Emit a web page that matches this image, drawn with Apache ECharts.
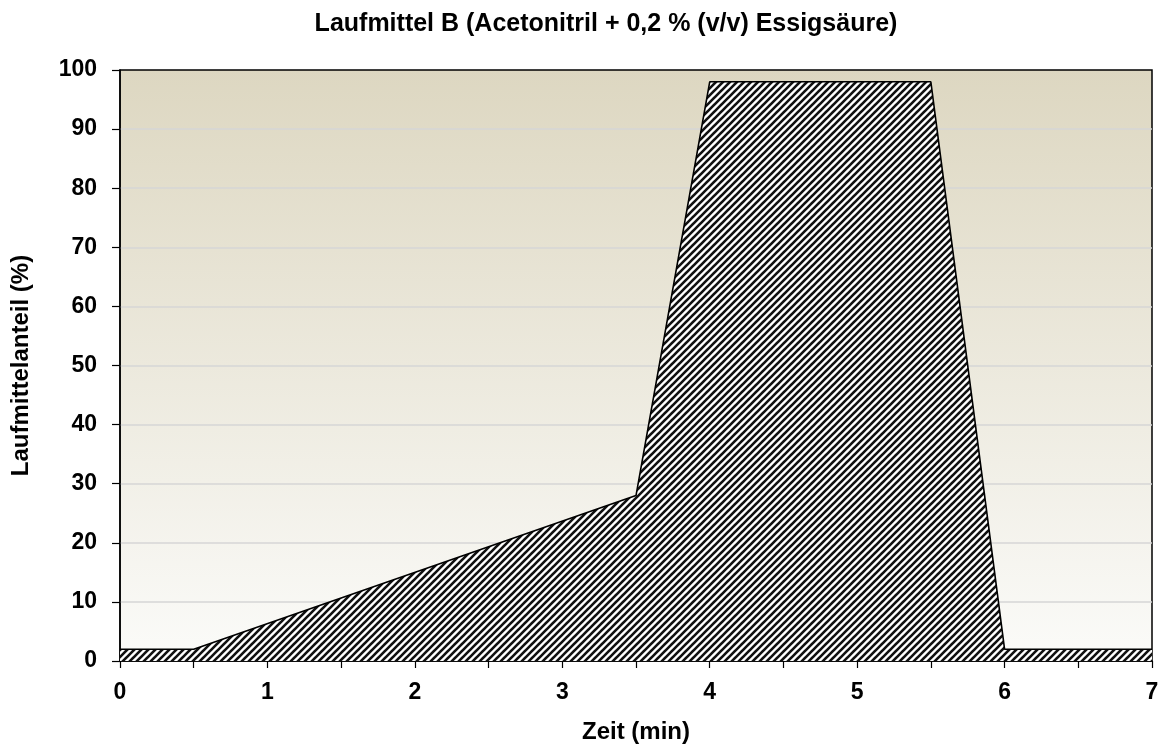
<!DOCTYPE html>
<html><head><meta charset="utf-8">
<script src="https://cdn.jsdelivr.net/npm/echarts@6/dist/echarts.min.js"></script>
<style>html,body{margin:0;padding:0;background:#fff}#c{width:1162px;height:749px}</style>
</head><body><div id="c"></div>
<script>
var times = [0, 0.5, 3.5, 4, 5.5, 6, 7];
var percentB = [2, 2, 28, 98, 98, 2, 2];
var titleText = 'Laufmittel B (Acetonitril + 0,2 % (v/v) Essigsäure)';
var xName = 'Zeit (min)';
var yName = 'Laufmittelanteil (%)';

function makeHatch() {
  var s = 7;
  var c = document.createElement('canvas');
  c.width = s; c.height = s;
  var g = c.getContext('2d');
  g.fillStyle = '#ffffff';
  g.fillRect(0, 0, s, s);
  g.strokeStyle = '#111111';
  g.lineWidth = 2.6;
  g.lineCap = 'square';
  for (var k = -1; k <= 1; k++) {
    g.beginPath();
    g.moveTo(k * s, s);
    g.lineTo(k * s + s, 0);
    g.stroke();
  }
  return c;
}

var chart = echarts.init(document.getElementById('c'));
var font = 'Arial, "Liberation Sans", sans-serif';
chart.setOption({
  animation: false,
  title: {
    text: titleText, left: 601, textAlign: 'center', top: 7,
    textStyle: {fontFamily: font, fontWeight: 'bold', fontSize: 25, color: '#000'}
  },
  grid: {
    left: 120, top: 70, right: 10, bottom: 85, show: true,
    borderColor: '#000', borderWidth: 1.5,
    backgroundColor: {
      type: 'linear', x: 0, y: 0, x2: 0, y2: 1,
      colorStops: [{offset: 0, color: '#ddd7c1'}, {offset: 1, color: '#fbfbf9'}]
    }
  },
  xAxis: {
    type: 'value', min: 0, max: 7, interval: 0.5,
    name: xName, nameLocation: 'middle', nameGap: 59,
    nameTextStyle: {fontFamily: font, fontWeight: 'bold', fontSize: 24, color: '#000'},
    axisLine: {lineStyle: {color: '#000', width: 1.5}},
    axisTick: {show: true, length: 7, lineStyle: {color: '#000', width: 1.2}},
    axisLabel: {
      margin: 20, fontFamily: font, fontWeight: 'bold', fontSize: 23, color: '#000',
      formatter: function (v) { return Math.abs(v - Math.round(v)) < 1e-6 ? String(Math.round(v)) : ''; }
    },
    splitLine: {show: false}
  },
  yAxis: {
    type: 'value', min: 0, max: 100, interval: 10,
    name: yName, nameLocation: 'middle', nameGap: 87, nameRotate: 90,
    nameTextStyle: {fontFamily: font, fontWeight: 'bold', fontSize: 24, color: '#000'},
    axisLine: {show: true, lineStyle: {color: '#000', width: 1.5}},
    axisTick: {show: true, length: 8, lineStyle: {color: '#000', width: 1.2}},
    axisLabel: {margin: 23, fontFamily: font, fontWeight: 'bold', fontSize: 23, color: '#000'},
    splitLine: {show: true, showMaxLine: false, showMinLine: false, lineStyle: {color: '#d6d6d6', width: 1.5}}
  },
  series: [{
    type: 'line',
    data: times.map(function (t, i) { return [t, percentB[i]]; }),
    symbol: 'none',
    lineStyle: {color: '#000', width: 1.6},
    areaStyle: {color: {image: makeHatch(), repeat: 'repeat'}, opacity: 1, origin: 'start'}
  }]
});
</script></body></html>
